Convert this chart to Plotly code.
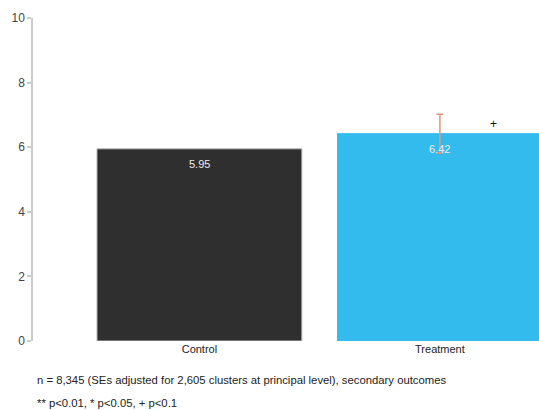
import plotly.graph_objects as go

# Group means (secondary outcome), standard error and significance marker
groups = ["Control", "Treatment"]
means = [5.95, 6.42]
errors = [None, 0.60]
sig_marks = ["", "+"]
bar_colors = ["#2f2f2f", "#33bbee"]
edge_colors = ["#bdbdbd", "#33bbee"]

y_ticks = [0, 2, 4, 6, 8, 10]
notes = [
    "n = 8,345 (SEs adjusted for 2,605 clusters at principal level), secondary outcomes",
    "** p<0.01, * p<0.05, + p<0.1",
]

FONT = "Liberation Sans, Arial, sans-serif"

fig = go.Figure()
for g, m, e, c, ec in zip(groups, means, errors, bar_colors, edge_colors):
    bar = go.Bar(
        x=[g], y=[m], width=0.852,
        marker=dict(color=c, line=dict(color=ec, width=1)),
        showlegend=False, hoverinfo="skip",
    )
    if e is not None:
        bar.error_y = dict(type="data", array=[e], color="#e0977a",
                           thickness=1.5, width=3.5)
    fig.add_trace(bar)

# Value labels just inside the top of each bar
for g, m in zip(groups, means):
    fig.add_annotation(x=g, y=m, text=f"{m:.2f}", showarrow=False,
                       yanchor="middle", yshift=-15,
                       font=dict(family=FONT, size=11, color="#eeeeee"))

# Significance markers beside the bars
for g, m, e, s in zip(groups, means, errors, sig_marks):
    if s:
        fig.add_annotation(x=g, y=m + 0.3, text=s, showarrow=False,
                           xshift=54, font=dict(family=FONT, size=12, color="#111111"))

# Footnotes below the axis
for i, t in enumerate(notes):
    fig.add_annotation(xref="paper", yref="paper", x=0.004, y=-0.121 - 0.071 * i,
                       xanchor="left", yanchor="middle", text=t, showarrow=False,
                       font=dict(family=FONT, size=11.3, color="#222222"))

fig.update_layout(
    width=539, height=410,
    margin=dict(l=33, r=0, t=18, b=69),
    paper_bgcolor="white", plot_bgcolor="white",
    barmode="overlay",
    font=dict(family=FONT, color="#333333"),
)
fig.update_xaxes(
    type="category", range=[-0.692, 1.412],
    showline=False, showgrid=False, zeroline=False, ticks="",
    tickfont=dict(family=FONT, size=11, color="#222222"),
)
fig.update_yaxes(
    range=[0, 10], tickvals=y_ticks, showgrid=False, zeroline=False,
    showline=True, linecolor="#cccccc", linewidth=1.5,
    ticks="outside", ticklen=4, tickcolor="#cccccc", tickwidth=1.5,
    tickfont=dict(family=FONT, size=12, color="#444444"),
)

fig.write_html("out.html")
